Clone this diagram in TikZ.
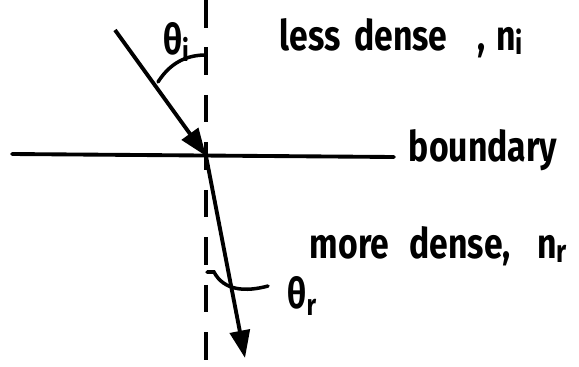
\documentclass[tikz,border=0pt]{standalone}
\usepackage{fontspec}
\setmainfont{Fira Sans}
\usepackage{graphicx}
\usetikzlibrary{arrows.meta,positioning,calc}
\newcommand{\hand}[1]{\scalebox{0.8}[1]{#1}}

\begin{document}
\begin{tikzpicture}[
  x=0.02cm, y=-0.02cm,
  line width=2.2pt, line cap=round,
  lbl/.style={font=\fontsize{24}{28}\selectfont\bfseries, inner sep=0pt},
  ang/.style={font=\fontsize{24}{26}\selectfont\bfseries, inner sep=0pt},
  ray/.style={-{Triangle[length=5.5mm,width=4mm]}, line cap=butt},
  normal/.style={dash pattern=on 0.55cm off 0.4cm, line cap=butt}
]
\useasboundingbox (0,0) rectangle (579,366);
% boundary and normal
\coordinate (bl) at (12,154);
\coordinate (br) at (394,157);
\coordinate (o) at (206,156);
\coordinate (ntop) at (206,0);
\coordinate (nbot) at (206,366);
\draw (bl) -- (br);
\draw[normal] (ntop) -- (nbot);
\node[lbl, anchor=west] (bnd) at (407,150) {\hand{boundary}};
% incident ray
\coordinate (src) at (115,30);
\draw[ray] (src) -- (o);
\coordinate (ai) at (158,82);
\coordinate (ni) at (206,55);
\draw[line width=2pt] (ai) .. controls (172,60) and (190,55) .. (ni);
\node[ang] (thi) at (176,42) {\hand{θ\raisebox{-0.3ex}{\fontsize{17}{17}\selectfont i}}};
% refracted ray
\coordinate (dst) at (245,358);
\draw[ray] (o) -- (dst);
\coordinate (ar) at (207,272);
\draw[line width=2pt] (ar) -- (214,272) .. controls (224,291) and (246,292) .. (268,286);
\node[ang] (thr) at (302,296) {\hand{θ\raisebox{-0.3ex}{\fontsize{17}{17}\selectfont r}}};
% media
\node[lbl, anchor=west] (top) at (278,38) {\hand{less\hspace{0.4em}dense\hspace{0.9em},\hspace{0.3em}n\raisebox{-0.2ex}{\fontsize{18}{18}\selectfont i}}};
\node[lbl, anchor=west] (bot) at (308,246) {\hand{more\hspace{0.6em}dense,\hspace{0.8em}n\raisebox{-0.2ex}{\fontsize{18}{18}\selectfont r}}};
\end{tikzpicture}
\end{document}
